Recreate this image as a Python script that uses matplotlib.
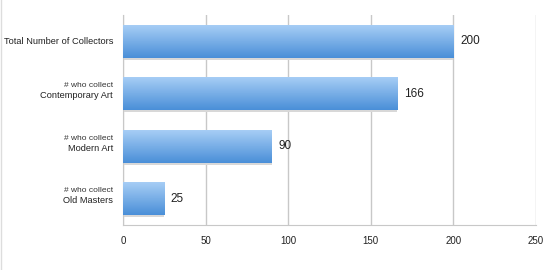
import numpy as np
import matplotlib
matplotlib.use("Agg")
import matplotlib.pyplot as plt
from matplotlib.colors import LinearSegmentedColormap
from matplotlib.lines import Line2D

main_labels = ["Total Number of Collectors", "Contemporary Art", "Modern Art", "Old Masters"]
sub_labels = ["", "# who collect", "# who collect", "# who collect"]
counts = [200, 166, 90, 25]
x_ticks = [0, 50, 100, 150, 200, 250]

plt.rcParams['font.family'] = ['Liberation Sans', 'DejaVu Sans']

fig = plt.figure(figsize=(5.52, 2.70), dpi=100)
ax = fig.add_axes([0.2228, 0.1667, 0.7482, 0.7777])

# light frame line on left edge
fig.add_artist(Line2D([0.002, 0.002], [0, 1], transform=fig.transFigure, color="#dddddd", lw=1))

y = np.arange(len(counts))[::-1]
bars = ax.barh(y, counts, height=0.63, color="#73aae6", zorder=2)

grad = LinearSegmentedColormap.from_list("bar", ["#4a8fd8", "#a9cff6"])
gimg = np.linspace(0, 1, 64).reshape(-1, 1)
for b in bars:
    x0, y0 = b.get_x(), b.get_y()
    w, h = b.get_width(), b.get_height()
    # soft shadow under bar
    ax.fill_between([x0, x0 + w], y0 - 0.04, y0, color="#d8d8d8", zorder=1.5, lw=0)
    im = ax.imshow(gimg, cmap=grad, aspect="auto", origin="lower",
                   extent=[x0, x0 + w, y0, y0 + h], zorder=3)
    im.set_clip_path(b)

for yi, v in zip(y, counts):
    ax.text(v + 4, yi, str(v), va="center", ha="left", fontsize=8.5, color="#222222")

ax.set_xlim(0, 250)
ax.set_ylim(-0.5, 3.5)
ax.set_xticks(x_ticks)
ax.set_xticklabels([str(t) for t in x_ticks], fontsize=7, color="#222222")
ax.set_yticks([])

for yi, m, s in zip(y, main_labels, sub_labels):
    if s:
        ax.text(-0.024, yi - 0.04, m, transform=ax.get_yaxis_transform(), ha="right", va="center",
                fontsize=6.7, color="#222222")
        ax.text(-0.024, yi + 0.15, s, transform=ax.get_yaxis_transform(), ha="right", va="center",
                fontsize=6, color="#333333")
    else:
        ax.text(-0.024, yi, m, transform=ax.get_yaxis_transform(), ha="right", va="center",
                fontsize=6.7, color="#222222")

ax.tick_params(axis="x", length=0, pad=8)
ax.xaxis.grid(True, color="#c8c8c8", lw=1)
ax.set_axisbelow(True)
for side in ["top", "right"]:
    ax.spines[side].set_visible(False)
ax.spines["left"].set_color("#c8c8c8")
ax.spines["bottom"].set_color("#c8c8c8")

fig.savefig("out.png", dpi=100)
